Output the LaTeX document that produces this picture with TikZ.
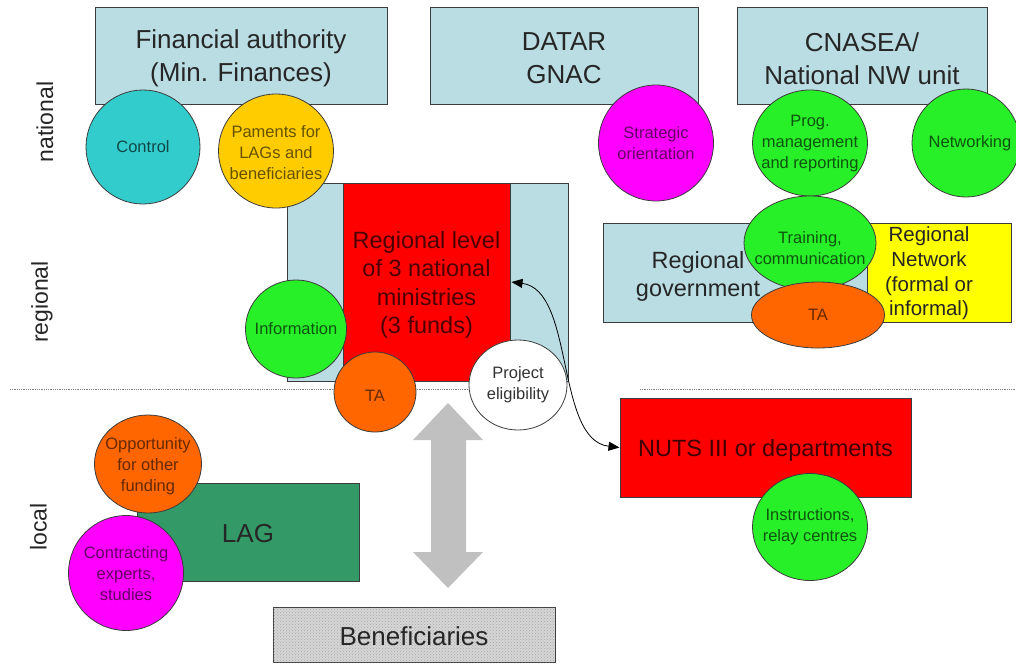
\documentclass[tikz,border=0pt]{standalone}
\usepackage{fontspec}
\setmainfont{Liberation Sans}
\usetikzlibrary{shapes.geometric,arrows.meta,patterns}

\definecolor{lblue}{RGB}{185,221,227}
\definecolor{teal1}{RGB}{51,204,204}
\definecolor{gold1}{RGB}{255,204,0}
\definecolor{mag1}{RGB}{255,0,255}
\definecolor{grn1}{RGB}{40,240,40}
\definecolor{org1}{RGB}{255,102,0}
\definecolor{red1}{RGB}{255,0,0}
\definecolor{yel1}{RGB}{255,255,0}
\definecolor{lag1}{RGB}{51,153,102}
\definecolor{ben1}{RGB}{214,214,214}
\definecolor{arr1}{RGB}{192,192,192}
\definecolor{edge1}{RGB}{60,60,60}

\tikzset{
  box/.style={draw=edge1, line width=1pt, rectangle, inner sep=0pt, align=center,
    text=black!85, font=\fontsize{26}{33}\selectfont},
  blbl/.style={align=center, inner sep=0pt, text=black!85, yshift=-3pt, font=\fontsize{26}{33}\selectfont},
  mlbl/.style={blbl, font=\fontsize{23.5}{28.5}\selectfont},
  blob/.style={draw=edge1, line width=0.8pt, ellipse, inner sep=0pt},
  btxt/.style={align=center, font=\fontsize{16.5}{21}\selectfont, inner sep=0pt},
  lvl/.style={rotate=90, inner sep=0pt, text=black!85, font=\fontsize{23}{23}\selectfont},
  divider/.style={densely dotted, gray, line width=0.8pt},
  tip/.style={{Triangle[length=11pt,width=9pt]}-{Triangle[length=11pt,width=9pt]}},
}

\begin{document}
\begin{tikzpicture}[x=1pt,y=-1pt]
\useasboundingbox (0,0) rectangle (1016,665);

% level dividers
\draw[divider] (10,389) -- (565,389);
\draw[divider] (640,389) -- (1016,389);

% level labels
\node[lvl] (lnat) at (45,122) {national};
\node[lvl] (lreg) at (42,302) {regional};
\node[lvl] (lloc) at (38.5,527) {local};

% national boxes
\node[box, fill=lblue, minimum width=292pt, minimum height=97pt,
  label={[blbl]center:Financial authority\\(Min. Finances)}] (fa) at (241,55.5) {};
\node[box, fill=lblue, minimum width=268pt, minimum height=97pt,
  label={[blbl]center:DATAR\\GNAC}] (datar) at (564,55.5) {};
\node[box, fill=lblue, minimum width=250pt, minimum height=97pt,
  label={[blbl]center:CNASEA/\\National NW unit}] (cnasea) at (862,55.5) {};

% regional ministries
\node[box, fill=lblue, minimum width=281pt, minimum height=198pt] (regback) at (427.5,282) {};
\node[box, fill=red1, minimum width=167pt, minimum height=198pt,
  label={[mlbl, text=red1!30!black]center:Regional level\\of 3 national\\ministries\\(3 funds)}] (reg) at (426.5,282) {};

% regional government and network
\node[box, fill=lblue, minimum width=267pt, minimum height=99pt] (rg) at (736.5,272.5) {};
\node[box, fill=yel1, minimum width=144pt, minimum height=99pt,
  label={[align=center, inner sep=0pt, xshift=-10pt, yshift=-1pt, text=black!85, font=\fontsize{20.5}{24.7}\selectfont]center:Regional\\Network\\(formal or\\informal)}] (rn) at (939,272.5) {};
\node[align=center, inner sep=0pt, text=black!85, font=\fontsize{23.5}{28}\selectfont] (rgt) at (698,276) {Regional\\government};

% NUTS III
\node[box, fill=red1, minimum width=291pt, minimum height=99pt,
  label={[mlbl, text=red1!25!black]center:NUTS III or departments}] (nuts) at (765.5,447.5) {};

% LAG and beneficiaries
\node[box, fill=lag1, minimum width=222pt, minimum height=98pt,
  label={[blbl, yshift=1pt]center:LAG}] (lag) at (248,532) {};
\node[box, fill=ben1, postaction={pattern=crosshatch dots, pattern color=gray!70}, minimum width=282pt, minimum height=55pt] (ben) at (414,634.5) {};
\node[inner sep=0pt, text=black!85, font=\fontsize{26}{30}\selectfont] (bent) at (414,636) {Beneficiaries};

% gray double arrow between levels
\fill[arr1] (448,403) -- (483,440) -- (466,440) -- (466,552) -- (483,552) -- (448,588)
  -- (413,552) -- (431,552) -- (431,440) -- (413,440) -- cycle;

% circles
\node[blob, fill=teal1, minimum width=114pt, minimum height=114pt,
  label={[btxt, text=teal1!35!black]center:Control}] (control) at (143,147) {};
\node[blob, fill=gold1, minimum width=115pt, minimum height=114pt,
  label={[btxt, text=gold1!40!black, yshift=-2pt]center:Paments for\\LAGs and\\beneficiaries}] (pay) at (276,151) {};
\node[blob, fill=mag1, minimum width=115pt, minimum height=116pt,
  label={[btxt, text=mag1!40!black]center:Strategic\\orientation}] (strat) at (656,143) {};
\node[blob, fill=grn1, minimum width=115pt, minimum height=106pt,
  label={[btxt, text=grn1!35!black, yshift=-1pt]center:Prog.\\management\\and reporting}] (prog) at (810,143) {};
\node[blob, fill=grn1, minimum width=108pt, minimum height=108pt,
  label={[btxt, text=grn1!35!black, xshift=4pt]center:Networking}] (netw) at (966,143) {};

\node[blob, fill=grn1, minimum width=132pt, minimum height=94pt,
  label={[btxt, text=grn1!35!black, yshift=-5pt]center:Training,\\communication}] (train) at (810,243) {};
\node[blob, fill=org1, minimum width=133pt, minimum height=66pt,
  label={[btxt, text=org1!40!black]center:TA}] (ta2) at (818,315) {};

\node[blob, fill=grn1, minimum width=101pt, minimum height=98pt,
  label={[btxt, text=grn1!35!black]center:Information}] (info) at (296,329) {};
\node[blob, fill=org1, minimum width=82pt, minimum height=80pt,
  label={[btxt, text=org1!40!black, yshift=-4pt]center:TA}] (ta1) at (375,392) {};
\node[blob, fill=white, minimum width=98pt, minimum height=90pt,
  label={[btxt, text=black!80]center:Project\\eligibility}] (proj) at (518,385) {};

\node[blob, fill=grn1, minimum width=115pt, minimum height=107pt,
  label={[btxt, text=grn1!35!black]center:Instructions,\\relay centres}] (inst) at (810,527) {};

\node[blob, fill=org1, minimum width=107pt, minimum height=98pt,
  label={[btxt, text=org1!40!black, yshift=-2pt]center:Opportunity\\for other\\funding}] (opp) at (148,464) {};
\node[blob, fill=mag1, minimum width=115pt, minimum height=115pt,
  label={[btxt, text=mag1!40!black, yshift=-1pt]center:Contracting\\experts,\\studies}] (contr) at (126,573) {};

% curved double arrow
\draw[tip, line width=0.8pt] ([xshift=1pt]reg.east) .. controls (575,290) and (555,440) .. (nuts.west);
\end{tikzpicture}
\end{document}
